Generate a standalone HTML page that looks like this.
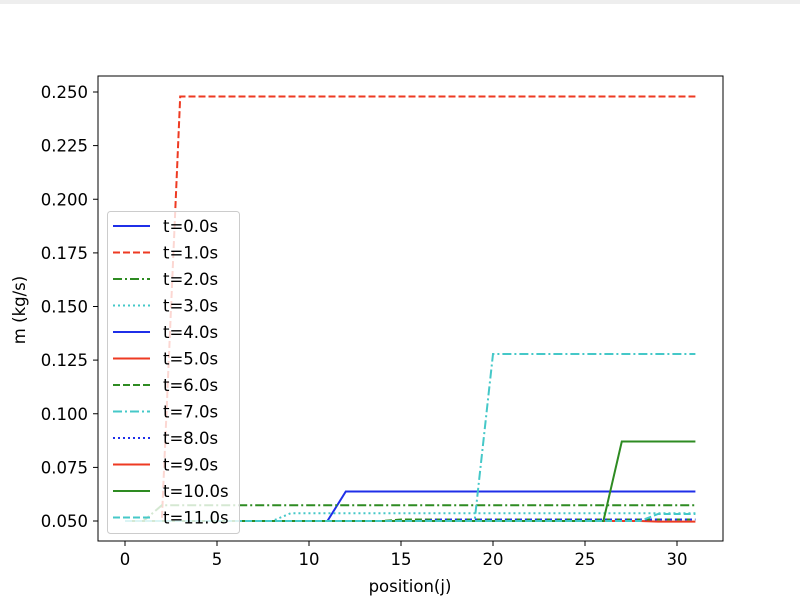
<!DOCTYPE html>
<html><head><style>body{margin:0;background:#fff}svg{display:block}</style></head>
<body>
<svg width="800" height="610" xmlns="http://www.w3.org/2000/svg" font-family="DejaVu Sans, sans-serif">
<rect x="0" y="0" width="800" height="4" fill="#eeeeee"/>
<g fill="none" stroke-width="2">
<!-- x=125+18.4*j ; y=521-(v-0.05)*2145 -->
<polyline stroke="#1f2fe8" points="125,521 327.4,521 345.8,491.5 695.4,491.5"/>
<polyline stroke="#ee3a22" stroke-dasharray="7,3" points="125,521 161.8,521 180.2,96.5 695.4,96.5"/>
<polyline stroke="#2e8b22" stroke-dasharray="9,3,2,3" points="125,521 143.4,521 161.8,505.3 695.4,505.3"/>
<polyline stroke="#45c8c8" stroke-dasharray="2,3" points="125,521 272.2,521 290.6,513.3 695.4,513.3"/>
<polyline stroke="#ee3a22" points="125,521 640,521 658,521.6 695.4,521.6"/>
<polyline stroke="#2e8b22" stroke-dasharray="7,3" points="125,521 382.6,521 401,519.5 695.4,519.5"/>
<polyline stroke="#1f2fe8" stroke-dasharray="2,3" points="125,521 419.4,521 437.8,519.5 695.4,519.5"/>
<polyline stroke="#45c8c8" stroke-dasharray="9,3,2,3" points="125,521 474.6,521 493,354 695.4,354"/>
<polyline stroke="#2e8b22" points="125,521 603.4,521 621.8,441.5 695.4,441.5"/>
<polyline stroke="#45c8c8" stroke-dasharray="7,3" points="125,521 640,521 658,514 695.4,514"/>
</g>
<rect x="98" y="76" width="625" height="465" fill="none" stroke="#000" stroke-width="1"/>
<g stroke="#000" stroke-width="1">
<line x1="125" y1="541" x2="125" y2="546"/><line x1="217" y1="541" x2="217" y2="546"/><line x1="309" y1="541" x2="309" y2="546"/><line x1="401" y1="541" x2="401" y2="546"/><line x1="493" y1="541" x2="493" y2="546"/><line x1="585" y1="541" x2="585" y2="546"/><line x1="677" y1="541" x2="677" y2="546"/>
<line x1="93" y1="521" x2="98" y2="521"/><line x1="93" y1="467.4" x2="98" y2="467.4"/><line x1="93" y1="413.75" x2="98" y2="413.75"/><line x1="93" y1="360.1" x2="98" y2="360.1"/><line x1="93" y1="306.5" x2="98" y2="306.5"/><line x1="93" y1="252.9" x2="98" y2="252.9"/><line x1="93" y1="199.25" x2="98" y2="199.25"/><line x1="93" y1="145.6" x2="98" y2="145.6"/><line x1="93" y1="92" x2="98" y2="92"/>
</g>
<g font-size="16.5" fill="#000" text-anchor="middle">
<text x="125" y="565">0</text><text x="217" y="565">5</text><text x="309" y="565">10</text><text x="401" y="565">15</text><text x="493" y="565">20</text><text x="585" y="565">25</text><text x="677" y="565">30</text>
<text x="410" y="592">position(j)</text>
<text transform="translate(25,310) rotate(-90)">m (kg/s)</text>
</g>
<g font-size="16.5" fill="#000" text-anchor="end">
<text x="88" y="527">0.050</text><text x="88" y="473.4">0.075</text><text x="88" y="419.75">0.100</text><text x="88" y="366.1">0.125</text><text x="88" y="312.5">0.150</text><text x="88" y="258.9">0.175</text><text x="88" y="205.25">0.200</text><text x="88" y="151.6">0.225</text><text x="88" y="98">0.250</text>
</g>
<rect x="107.5" y="211.5" width="132" height="322" rx="3" fill="#fff" fill-opacity="0.8" stroke="#ccc"/>
<g fill="none" stroke-width="2">
<line x1="113" y1="226" x2="150" y2="226" stroke="#1f2fe8"/>
<line x1="113" y1="252.5" x2="150" y2="252.5" stroke="#ee3a22" stroke-dasharray="7,3"/>
<line x1="113" y1="279" x2="150" y2="279" stroke="#2e8b22" stroke-dasharray="9,3,2,3"/>
<line x1="113" y1="305.5" x2="150" y2="305.5" stroke="#45c8c8" stroke-dasharray="2,3"/>
<line x1="113" y1="332" x2="150" y2="332" stroke="#1f2fe8"/>
<line x1="113" y1="358.5" x2="150" y2="358.5" stroke="#ee3a22"/>
<line x1="113" y1="385" x2="150" y2="385" stroke="#2e8b22" stroke-dasharray="7,3"/>
<line x1="113" y1="411.5" x2="150" y2="411.5" stroke="#45c8c8" stroke-dasharray="9,3,2,3"/>
<line x1="113" y1="438" x2="150" y2="438" stroke="#1f2fe8" stroke-dasharray="2,3"/>
<line x1="113" y1="464.5" x2="150" y2="464.5" stroke="#ee3a22"/>
<line x1="113" y1="491" x2="150" y2="491" stroke="#2e8b22"/>
<line x1="113" y1="517.5" x2="150" y2="517.5" stroke="#45c8c8" stroke-dasharray="7,3"/>
</g>
<g font-size="16.5" fill="#000">
<text x="163" y="232">t=0.0s</text><text x="163" y="258.5">t=1.0s</text><text x="163" y="285">t=2.0s</text><text x="163" y="311.5">t=3.0s</text><text x="163" y="338">t=4.0s</text><text x="163" y="364.5">t=5.0s</text><text x="163" y="391">t=6.0s</text><text x="163" y="417.5">t=7.0s</text><text x="163" y="444">t=8.0s</text><text x="163" y="470.5">t=9.0s</text><text x="163" y="497">t=10.0s</text><text x="163" y="523.5">t=11.0s</text>
</g>
</svg>
</body></html>
